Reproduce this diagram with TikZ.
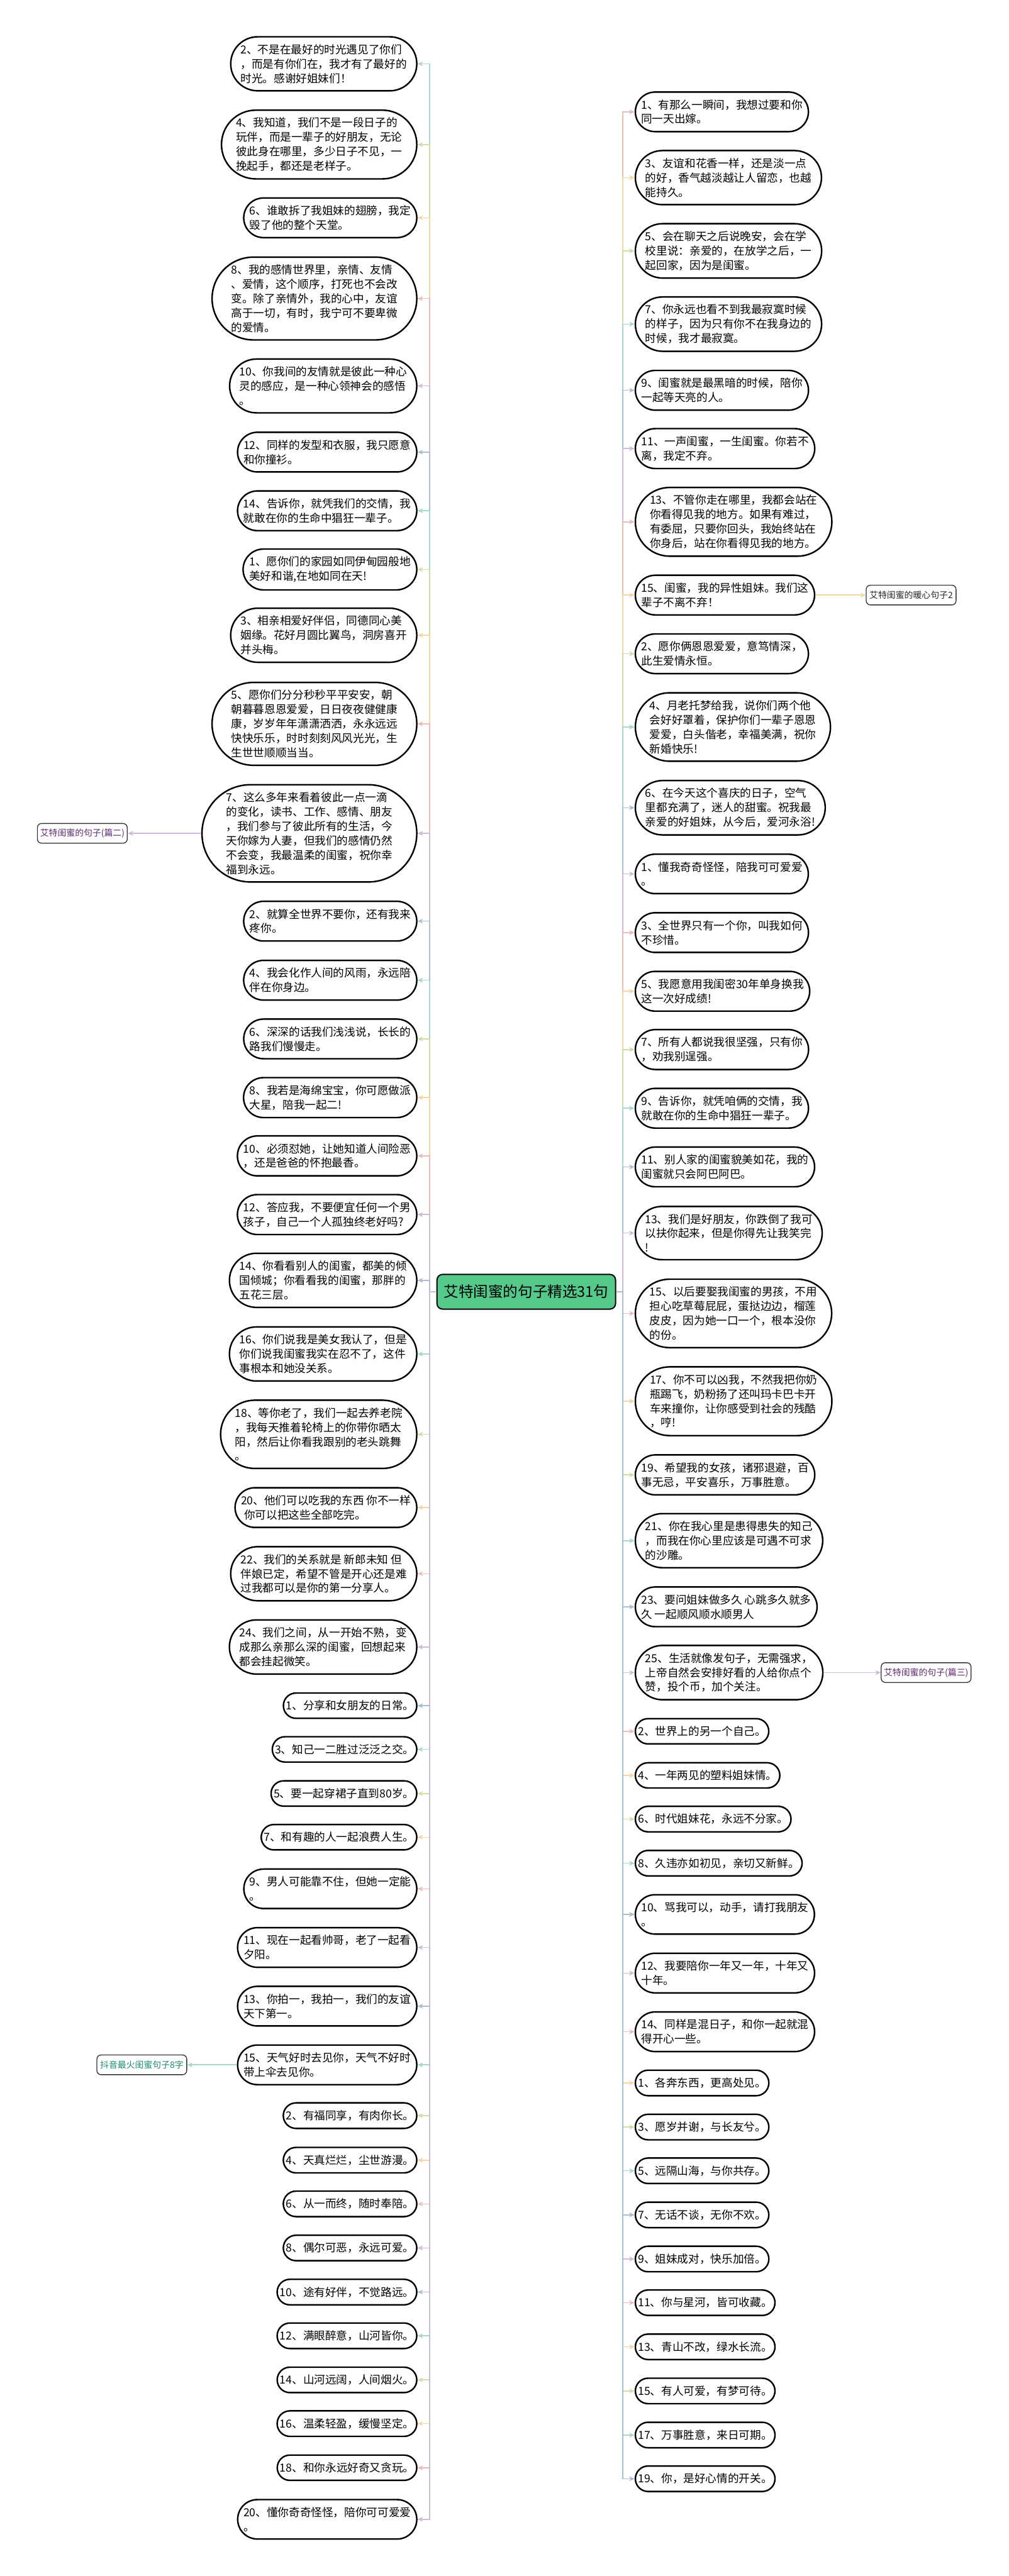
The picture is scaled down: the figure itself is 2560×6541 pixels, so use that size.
\documentclass[tikz,border=0pt]{standalone}
\usepackage{fontspec}
\setmainfont{Noto Sans CJK SC}
\usepackage{xcolor}
\usepackage{tikz}
\usetikzlibrary{arrows.meta,shapes.misc}

\definecolor{rootgreen}{HTML}{55C98A}
\definecolor{brteal}{HTML}{A6D8CF}
\definecolor{brgreen}{HTML}{CCDFA6}
\definecolor{brpeach}{HTML}{F5D5A4}
\definecolor{brpink}{HTML}{EDBABA}
\definecolor{brpurple}{HTML}{CDBBD7}
\definecolor{brblue}{HTML}{ABBDD2}
\definecolor{tagpurple}{HTML}{5E2A6E}
\definecolor{tagteal}{HTML}{1F8A70}
\colorlet{lcol0}{brteal}
\colorlet{lcol1}{brgreen}
\colorlet{lcol2}{brpeach}
\colorlet{lcol3}{brpink}
\colorlet{lcol4}{brpurple}
\colorlet{lcol5}{brblue}
\colorlet{rcol0}{brpink}
\colorlet{rcol1}{brpeach}
\colorlet{rcol2}{brgreen}
\colorlet{rcol3}{brteal}
\colorlet{rcol4}{brblue}
\colorlet{rcol5}{brpurple}

\tikzset{
  itembox/.style={rounded rectangle, rounded rectangle arc length=180, draw=black,
    line width=1.1pt, fill=white, align=left, inner xsep=0.04cm, inner ysep=0.19cm,
    font=\fontsize{8}{10.4}\selectfont},
  lbox/.style={itembox, anchor=east},
  rbox/.style={itembox, anchor=west},
  rootbox/.style={draw=black, line width=0.9pt, fill=rootgreen, rounded corners=4pt,
    minimum width=4.53cm, minimum height=0.88cm, font=\fontsize{10.7}{13}\selectfont},
  tagbox/.style={draw=black!80, line width=0.6pt, fill=white, rounded corners=3pt,
    minimum width=2.28cm, minimum height=0.5cm, inner sep=1pt,
    font=\fontsize{6.3}{7.5}\selectfont},
  conn/.style={line width=0.7pt, ->},
}

\begin{document}
\begin{tikzpicture}[x=0.01cm, y=-0.01cm, >={Stealth[length=4pt, width=3.5pt]}]
    \useasboundingbox (0,0) rectangle (2560,6541);
    \fill[white] (0,0) rectangle (2560,6541);

    \node[rootbox] (root) at (1336,3280) {艾特闺蜜的句子精选31句};
    \coordinate (lj) at (1091,3280);
    \coordinate (rj) at (1581,3280);

    % left column
    \node[lbox] (l1) at (1060,162) {2、不是在最好的时光遇见了你们\\，而是有你们在，我才有了最好的\\时光。感谢好姐妹们！};
    \node[lbox] (l2) at (1060,367) {4、我知道，我们不是一段日子的\\玩伴，而是一辈子的好朋友，无论\\彼此身在哪里，多少日子不见，一\\挽起手，都还是老样子。};
    \node[lbox] (l3) at (1060,553) {6、谁敢拆了我姐妹的翅膀，我定\\毁了他的整个天堂。};
    \node[lbox] (l4) at (1060,758) {8、我的感情世界里，亲情、友情\\、爱情，这个顺序，打死也不会改\\变。除了亲情外，我的心中，友谊\\高于一切，有时，我宁可不要卑微\\的爱情。};
    \node[lbox] (l5) at (1060,980) {10、你我间的友情就是彼此一种心\\灵的感应，是一种心领神会的感悟\\。};
    \node[lbox] (l6) at (1060,1148) {12、同样的发型和衣服，我只愿意\\和你撞衫。};
    \node[lbox] (l7) at (1060,1297) {14、告诉你，就凭我们的交情，我\\就敢在你的生命中猖狂一辈子。};
    \node[lbox] (l8) at (1060,1446) {1、愿你们的家园如同伊甸园般地\\美好和谐,在地如同在天!};
    \node[lbox] (l9) at (1060,1613) {3、相亲相爱好伴侣，同德同心美\\姻缘。花好月圆比翼鸟，洞房喜开\\并头梅。};
    \node[lbox] (l10) at (1060,1838) {5、愿你们分分秒秒平平安安，朝\\朝暮暮恩恩爱爱，日日夜夜健健康\\康，岁岁年年潇潇洒洒，永永远远\\快快乐乐，时时刻刻风风光光，生\\生世世顺顺当当。};
    \node[lbox] (l11) at (1060,2116) {7、这么多年来看着彼此一点一滴\\的变化，读书、工作、感情、朋友\\，我们参与了彼此所有的生活，今\\天你嫁为人妻，但我们的感情仍然\\不会变，我最温柔的闺蜜，祝你幸\\福到永远。};
    \node[lbox] (l12) at (1060,2339) {2、就算全世界不要你，还有我来\\疼你。};
    \node[lbox] (l13) at (1060,2489) {4、我会化作人间的风雨，永远陪\\伴在你身边。};
    \node[lbox] (l14) at (1060,2638) {6、深深的话我们浅浅说，长长的\\路我们慢慢走。};
    \node[lbox] (l15) at (1060,2787) {8、我若是海绵宝宝，你可愿做派\\大星，陪我一起二!};
    \node[lbox] (l16) at (1060,2935) {10、必须怼她，让她知道人间险恶\\，还是爸爸的怀抱最香。};
    \node[lbox] (l17) at (1060,3084) {12、答应我，不要便宜任何一个男\\孩子，自己一个人孤独终老好吗?};
    \node[lbox] (l18) at (1060,3251) {14、你看看别人的闺蜜，都美的倾\\国倾城；你看看我的闺蜜，那胖的\\五花三层。};
    \node[lbox] (l19) at (1060,3438) {16、你们说我是美女我认了，但是\\你们说我闺蜜我实在忍不了，这件\\事根本和她没关系。};
    \node[lbox] (l20) at (1060,3642) {18、等你老了，我们一起去养老院\\，我每天推着轮椅上的你带你晒太\\阳，然后让你看我跟别的老头跳舞\\。};
    \node[lbox] (l21) at (1060,3828) {20、他们可以吃我的东西 你不一样\\\hspace{0.3em}你可以把这些全部吃完。};
    \node[lbox] (l22) at (1060,3996) {22、我们的关系就是 新郎未知 但\\伴娘已定，希望不管是开心还是难\\过我都可以是你的第一分享人。};
    \node[lbox] (l23) at (1060,4182) {24、我们之间，从一开始不熟，变\\成那么亲那么深的闺蜜，回想起来\\都会挂起微笑。};
    \node[lbox] (l24) at (1060,4331) {1、分享和女朋友的日常。};
    \node[lbox] (l25) at (1060,4442) {3、知己一二胜过泛泛之交。};
    \node[lbox] (l26) at (1060,4554) {5、要一起穿裙子直到80岁。};
    \node[lbox] (l27) at (1060,4665) {7、和有趣的人一起浪费人生。};
    \node[lbox] (l28) at (1060,4796) {9、男人可能靠不住，但她一定能\\。};
    \node[lbox] (l29) at (1060,4945) {11、现在一起看帅哥，老了一起看\\夕阳。};
    \node[lbox] (l30) at (1060,5094) {13、你拍一，我拍一，我们的友谊\\天下第一。};
    \node[lbox] (l31) at (1060,5243) {15、天气好时去见你，天气不好时\\带上伞去见你。};
    \node[lbox] (l32) at (1060,5372) {2、有福同享，有肉你长。};
    \node[lbox] (l33) at (1060,5485) {4、天真烂烂，尘世游漫。};
    \node[lbox] (l34) at (1060,5596) {6、从一而终，随时奉陪。};
    \node[lbox] (l35) at (1060,5708) {8、偶尔可恶，永远可爱。};
    \node[lbox] (l36) at (1060,5820) {10、途有好伴，不觉路远。};
    \node[lbox] (l37) at (1060,5931) {12、满眼醉意，山河皆你。};
    \node[lbox] (l38) at (1060,6043) {14、山河远阔，人间烟火。};
    \node[lbox] (l39) at (1060,6154) {16、温柔轻盈，缓慢坚定。};
    \node[lbox] (l40) at (1060,6266) {18、和你永远好奇又贪玩。};
    \node[lbox] (l41) at (1060,6397) {20、懂你奇奇怪怪，陪你可可爱爱\\。};

    % right column
    \node[rbox] (r1) at (1611,284) {1、有那么一瞬间，我想过要和你\\同一天出嫁。};
    \node[rbox] (r2) at (1611,451) {3、友谊和花香一样，还是淡一点\\的好，香气越淡越让人留恋，也越\\能持久。};
    \node[rbox] (r3) at (1611,637) {5、会在聊天之后说晚安，会在学\\校里说：亲爱的，在放学之后，一\\起回家，因为是闺蜜。};
    \node[rbox] (r4) at (1611,823) {7、你永远也看不到我最寂寞时候\\的样子，因为只有你不在我身边的\\时候，我才最寂寞。};
    \node[rbox] (r5) at (1611,991) {9、闺蜜就是最黑暗的时候，陪你\\一起等天亮的人。};
    \node[rbox] (r6) at (1611,1139) {11、一声闺蜜，一生闺蜜。你若不\\离，我定不弃。};
    \node[rbox] (r7) at (1611,1325) {13、不管你走在哪里，我都会站在\\你看得见我的地方。如果有难过，\\有委屈，只要你回头，我始终站在\\你身后，站在你看得见我的地方。};
    \node[rbox] (r8) at (1611,1511) {15、闺蜜，我的异性姐妹。我们这\\辈子不离不弃！};
    \node[rbox] (r9) at (1611,1660) {2、愿你俩恩恩爱爱，意笃情深，\\此生爱情永恒。};
    \node[rbox] (r10) at (1611,1846) {4、月老托梦给我，说你们两个他\\会好好罩着，保护你们一辈子恩恩\\爱爱，白头偕老，幸福美满，祝你\\新婚快乐!};
    \node[rbox] (r11) at (1611,2051) {6、在今天这个喜庆的日子，空气\\里都充满了，迷人的甜蜜。祝我最\\亲爱的好姐妹，从今后，爱河永浴!};
    \node[rbox] (r12) at (1611,2219) {1、懂我奇奇怪怪，陪我可可爱爱\\。};
    \node[rbox] (r13) at (1611,2368) {3、全世界只有一个你，叫我如何\\不珍惜。};
    \node[rbox] (r14) at (1611,2517) {5、我愿意用我闺密30年单身换我\\这一次好成绩!};
    \node[rbox] (r15) at (1611,2665) {7、所有人都说我很坚强，只有你\\，劝我别逞强。};
    \node[rbox] (r16) at (1611,2814) {9、告诉你，就凭咱俩的交情，我\\就敢在你的生命中猖狂一辈子。};
    \node[rbox] (r17) at (1611,2963) {11、别人家的闺蜜貌美如花，我的\\闺蜜就只会阿巴阿巴。};
    \node[rbox] (r18) at (1611,3131) {13、我们是好朋友，你跌倒了我可\\以扶你起来，但是你得先让我笑完\\!};
    \node[rbox] (r19) at (1611,3335) {15、以后要娶我闺蜜的男孩，不用\\担心吃草莓屁屁，蛋挞边边，榴莲\\皮皮，因为她一口一个，根本没你\\的份。};
    \node[rbox] (r20) at (1611,3558) {17、你不可以凶我，不然我把你奶\\瓶踢飞，奶粉扬了还叫玛卡巴卡开\\车来撞你，让你感受到社会的残酷\\，哼!};
    \node[rbox] (r21) at (1611,3745) {19、希望我的女孩，诸邪退避，百\\事无忌，平安喜乐，万事胜意。};
    \node[rbox] (r22) at (1611,3912) {21、你在我心里是患得患失的知己\\，而我在你心里应该是可遇不可求\\的沙雕。};
    \node[rbox] (r23) at (1611,4080) {23、要问姐妹做多久 心跳多久就多\\久 一起顺风顺水顺男人};
    \node[rbox] (r24) at (1611,4247) {25、生活就像发句子，无需强求，\\上帝自然会安排好看的人给你点个\\赞，投个币，加个关注。};
    \node[rbox] (r25) at (1611,4396) {2、世界上的另一个自己。};
    \node[rbox] (r26) at (1611,4508) {4、一年两见的塑料姐妹情。};
    \node[rbox] (r27) at (1611,4619) {6、时代姐妹花，永远不分家。};
    \node[rbox] (r28) at (1611,4731) {8、久违亦如初见，亲切又新鲜。};
    \node[rbox] (r29) at (1611,4861) {10、骂我可以，动手，请打我朋友\\。};
    \node[rbox] (r30) at (1611,5010) {12、我要陪你一年又一年，十年又\\十年。};
    \node[rbox] (r31) at (1611,5159) {14、同样是混日子，和你一起就混\\得开心一些。};
    \node[rbox] (r32) at (1611,5289) {1、各奔东西，更高处见。};
    \node[rbox] (r33) at (1611,5401) {3、愿岁并谢，与长友兮。};
    \node[rbox] (r34) at (1611,5512) {5、远隔山海，与你共存。};
    \node[rbox] (r35) at (1611,5624) {7、无话不谈，无你不欢。};
    \node[rbox] (r36) at (1611,5736) {9、姐妹成对，快乐加倍。};
    \node[rbox] (r37) at (1611,5847) {11、你与星河，皆可收藏。};
    \node[rbox] (r38) at (1611,5959) {13、青山不改，绿水长流。};
    \node[rbox] (r39) at (1611,6071) {15、有人可爱，有梦可待。};
    \node[rbox] (r40) at (1611,6183) {17、万事胜意，来日可期。};
    \node[rbox] (r41) at (1611,6294) {19、你，是好心情的开关。};

    \foreach \i in {1,...,41} {
        \pgfmathtruncatemacro\k{mod(\i-1,6)}
        \draw[conn, draw=lcol\k] (root.west) -- (lj) |- (l\i.east);
        \draw[conn, draw=rcol\k] (root.east) -- (rj) |- (r\i.west);
    }

    % side tags
    \node[tagbox, text=black!85] (tag1) at (2313,1511) {艾特闺蜜的暖心句子2};
    \node[tagbox, text=tagpurple] (tag2) at (209,2116) {艾特闺蜜的句子(篇二)};
    \node[tagbox, text=tagpurple] (tag3) at (2351,4247) {艾特闺蜜的句子(篇三)};
    \node[tagbox, text=tagteal] (tag4) at (360,5243) {抖音最火闺蜜句子8字};

    \draw[conn, draw=brpeach] (r8.east) -- (tag1.west);
    \draw[conn, draw=brpurple] (l11.west) -- (tag2.east);
    \draw[conn, draw=brpurple] (r24.east) -- (tag3.west);
    \draw[conn, draw=brteal] (l31.west) -- (tag4.east);
\end{tikzpicture}
\end{document}
